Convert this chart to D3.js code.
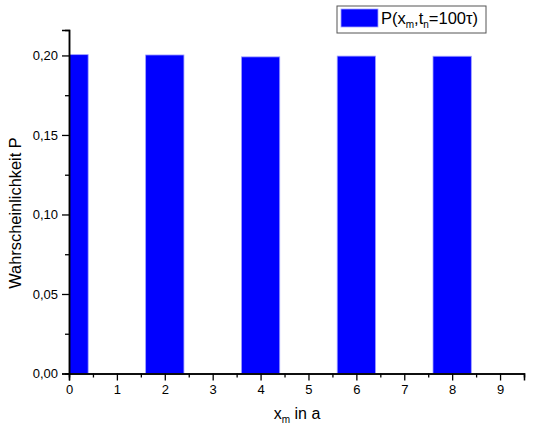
<!DOCTYPE html>
<html>
<head>
<meta charset="utf-8">
<script src="https://cdn.jsdelivr.net/npm/d3@7.9.0/dist/d3.min.js"></script>
<style>
  body { margin: 0; background: #fff; }
  text { font-family: "Liberation Sans", Arial, sans-serif; fill: #000; }
</style>
</head>
<body>
<svg id="chart" width="533" height="430"></svg>
<script>
// positions x_m (in a) and probabilities
const positions = [0, 2, 4, 6, 8];
const probs = [0.2005, 0.2003, 0.1991, 0.1996, 0.1995];
const xTicks = [0, 1, 2, 3, 4, 5, 6, 7, 8, 9];
const yTicks = [0, 0.05, 0.10, 0.15, 0.20];

const svg = d3.select('#chart');
const mLeft = 69, mRight = 524, mTop = 30, mBottom = 373.5;

const x = d3.scaleLinear().domain([0, 9.5]).range([mLeft, mRight]);
const y = d3.scaleLinear().domain([0, 0.216]).range([mBottom, mTop]);
const fmt = (d) => d3.format('.2f')(d).replace('.', ',');

svg.append('clipPath').attr('id', 'plot')
  .append('rect').attr('x', mLeft).attr('y', 0).attr('width', mRight - mLeft).attr('height', mBottom);

// bars
svg.append('g').attr('clip-path', 'url(#plot)')
  .selectAll('rect')
  .data(positions)
  .join('rect')
  .attr('x', (d) => x(d - 0.4))
  .attr('width', x(0.8) - x(0))
  .attr('y', (d, i) => y(probs[i]))
  .attr('height', (d, i) => y(0) - y(probs[i]))
  .attr('fill', '#0000ff')
  .attr('stroke', '#a0a0ff')
  .attr('stroke-width', 0.8);

// x axis
const xAxis = svg.append('g').attr('transform', `translate(0,${mBottom})`);
xAxis.call(d3.axisBottom(x).tickValues(d3.range(0.5, 9.5, 1)).tickSize(4).tickFormat(''));
xAxis.append('g').call(d3.axisBottom(x).tickValues(xTicks).tickSize(7).tickPadding(4).tickFormat(d3.format('d')));
xAxis.selectAll('.domain').attr('stroke', '#000').attr('stroke-width', 1.5);
xAxis.selectAll('.tick line').attr('stroke', '#000').attr('stroke-width', 1.3);
xAxis.selectAll('text').style('font-size', '13px');

// y axis
const yAxis = svg.append('g').attr('transform', `translate(${mLeft},0)`);
yAxis.call(d3.axisLeft(y).tickValues([0.025, 0.075, 0.125, 0.175]).tickSize(4).tickFormat(''));
yAxis.append('g').call(d3.axisLeft(y).tickValues(yTicks).tickSize(7).tickPadding(4).tickFormat(fmt));
yAxis.selectAll('.domain').attr('stroke', '#000').attr('stroke-width', 1.5);
yAxis.selectAll('.tick line').attr('stroke', '#000').attr('stroke-width', 1.3);
yAxis.selectAll('text').style('font-size', '13px');

// axis titles
const xt = svg.append('text')
  .attr('x', 297).attr('y', 419)
  .attr('text-anchor', 'middle')
  .style('font-size', '16px');
xt.append('tspan').text('x');
xt.append('tspan').attr('dy', 4).style('font-size', '10px').text('m');
xt.append('tspan').attr('dy', -4).text(' in a');

svg.append('text')
  .attr('transform', 'translate(21,213) rotate(-90)')
  .attr('text-anchor', 'middle')
  .style('font-size', '16.4px')
  .text('Wahrscheinlichkeit P');

// legend
const lg = svg.append('g');
lg.append('rect').attr('x', 337).attr('y', 6).attr('width', 149).attr('height', 27)
  .attr('fill', '#fff').attr('stroke', '#555').attr('stroke-width', 1);
lg.append('rect').attr('x', 341).attr('y', 9).attr('width', 37).attr('height', 18)
  .attr('fill', '#0000ff').attr('stroke', '#a0a0ff').attr('stroke-width', 0.8);
const lt = lg.append('text').attr('x', 381).attr('y', 24).style('font-size', '16.5px');
lt.append('tspan').text('P(x');
lt.append('tspan').attr('dy', 4).style('font-size', '10px').text('m');
lt.append('tspan').attr('dy', -4).text(',t');
lt.append('tspan').attr('dy', 4).style('font-size', '10px').text('n');
lt.append('tspan').attr('dy', -4).text('=100τ)');
</script>
</body>
</html>
